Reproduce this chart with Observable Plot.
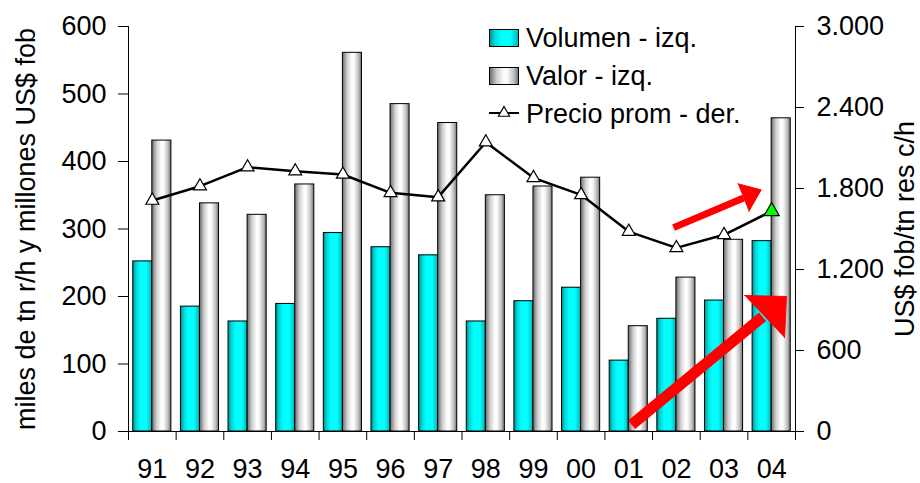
<!DOCTYPE html>
<html><head><meta charset="utf-8">
<script src="https://cdn.jsdelivr.net/npm/d3@7"></script>
<script src="https://cdn.jsdelivr.net/npm/@observablehq/plot@0.6"></script>
<style>body{margin:0;background:#fff}#chart{position:relative;width:920px;height:483px}</style>
</head><body><div id="chart"></div>
<script>
// ---- data ----
const years   = ["91","92","93","94","95","96","97","98","99","00","01","02","03","04"];
const volumen = [252,185,163,189,294,273,261,163,193,213,105,167,194,282];
const valor   = [431,338,321,366,561,485,457,350,363,376,156,228,284,464];
const precio  = [1711,1817,1958,1928,1904,1768,1736,2143,1879,1753,1481,1360,1457,1632];
const highlightYear = "04";
const leftTicks  = [0,100,200,300,400,500,600];
const rightTicks = [0,600,1200,1800,2400,3000];
const leftTitle  = "miles de tn r/h y millones US$ fob";
const rightTitle = "US$ fob/tn res c/h";
const legendLabels = ["Volumen - izq.","Valor - izq.","Precio prom - der."];
// annotation arrows (x in year-index units, y in left-axis units)
const bigShaft   = [{x1:10.56, y1:10,  x2:13.31, y2:170}];
const smallShaft = [{x1:11.44, y1:302, x2:12.91, y2:346}];
const arrowHeads = [
  {id:"big", x:12.93, y:201.5},{id:"big", x:13.81, y:200},{id:"big", x:13.77, y:139},
  {id:"small", x:12.79, y:367},{id:"small", x:13.28, y:358},{id:"small", x:13.02, y:326}
];

const ratio = 3000/600;
const rows = years.map((y,i)=>({i, year:y, vol:volumen[i], val:valor[i], pre:precio[i]}));
const fmtDot = v => d3.format(",")(v).replace(/,/g,".");
const FONT = "'Liberation Sans', Arial, Helvetica, sans-serif";

const plot = Plot.plot({
  width: 920, height: 483,
  marginLeft: 128, marginRight: 125, marginTop: 26, marginBottom: 52,
  style: {fontFamily: FONT, fontSize: "27px", color: "#000", background: "#fff"},
  x: {type: "linear", domain: [0, years.length]},
  y: {domain: [0, 600]},
  marks: [
    Plot.rectY(rows, {x1: d=>d.i+0.1, x2: d=>d.i+0.5, y1: 0, y2: "vol", fill: "url(#gCyan)", stroke: "#000", strokeWidth: 1}),
    Plot.rectY(rows, {x1: d=>d.i+0.5, x2: d=>d.i+0.9, y1: 0, y2: "val", fill: "url(#gGrey)", stroke: "#000", strokeWidth: 1}),
    Plot.ruleX([0], {stroke: "#000"}),
    Plot.ruleX([years.length], {stroke: "#000"}),
    Plot.ruleY([0], {stroke: "#000"}),
    Plot.axisY(leftTicks, {tickSize: 10, tickPadding: 12, fontSize: 27, label: null}),
    Plot.axisY(rightTicks.map(v=>v/ratio), {anchor: "right", tickSize: 8, tickPadding: 13, fontSize: 27, label: null, tickFormat: v => fmtDot(Math.round(v*ratio))}),
    Plot.axisX(rows.map(d=>d.i+0.5), {tickSize: 0, tickPadding: 27, fontSize: 27, label: null, tickFormat: v => years[Math.round(v-0.5)]}),
    Plot.axisX(d3.range(years.length+1), {tickSize: 9, tickPadding: 0, label: null, tickFormat: () => ""}),
    Plot.line(rows, {x: d=>d.i+0.5, y: d=>d.pre/ratio, stroke: "#000", strokeWidth: 2.5}),
    Plot.dot(rows, {filter: d=>d.year!==highlightYear, x: d=>d.i+0.5, y: d=>d.pre/ratio, symbol: "triangle", r: 4.8, fill: "#fff", stroke: "#000", strokeWidth: 1.2}),
    Plot.dot(rows, {filter: d=>d.year===highlightYear, x: d=>d.i+0.5, y: d=>d.pre/ratio, symbol: "triangle", r: 5.6, fill: "#00ff00", stroke: "#000", strokeWidth: 1.2}),
    Plot.link(bigShaft, {x1:"x1", y1:"y1", x2:"x2", y2:"y2", stroke: "#ff0000", strokeWidth: 11}),
    Plot.link(smallShaft, {x1:"x1", y1:"y1", x2:"x2", y2:"y2", stroke: "#ff0000", strokeWidth: 7}),
    Plot.line(arrowHeads, {x:"x", y:"y", z:"id", fill: "#ff0000", stroke: "#ff0000", strokeWidth: 1}),
    Plot.text([leftTitle], {text: d=>d, frameAnchor: "left", textAnchor: "middle", lineAnchor: "middle", rotate: -90, dx: -102, fontSize: 27}),
    Plot.text([rightTitle], {text: d=>d, frameAnchor: "right", textAnchor: "middle", lineAnchor: "middle", rotate: -90, dx: 110, fontSize: 27})
  ]
});
document.getElementById("chart").appendChild(plot);

// gradients
const svg = d3.select(plot);
const defs = svg.insert("defs", ":first-child");
const gc = defs.append("linearGradient").attr("id","gCyan").attr("x1","0").attr("x2","1").attr("y1","0").attr("y2","0");
[["0%","#008c8c"],["18%","#00d8d8"],["40%","#00ffff"],["72%","#00ffff"],["100%","#00b4b4"]]
  .forEach(([o,c])=>gc.append("stop").attr("offset",o).attr("stop-color",c));
const gg = defs.append("linearGradient").attr("id","gGrey").attr("x1","0").attr("x2","1").attr("y1","0").attr("y2","0");
[["0%","#6a6a6a"],["25%","#cfcfcf"],["50%","#ffffff"],["62%","#fafafa"],["85%","#bdbdbd"],["100%","#6e6e6e"]]
  .forEach(([o,c])=>gg.append("stop").attr("offset",o).attr("stop-color",c));

// legend
const lg = svg.append("g").attr("font-family", FONT).attr("font-size", 27).attr("text-anchor", "start");
lg.append("rect").attr("x",489.5).attr("y",29.5).attr("width",29).attr("height",17).attr("fill","url(#gCyan)").attr("stroke","#000");
lg.append("rect").attr("x",489.5).attr("y",67.5).attr("width",29).attr("height",17).attr("fill","url(#gGrey)").attr("stroke","#000");
lg.append("line").attr("x1",489).attr("x2",519).attr("y1",113).attr("y2",113).attr("stroke","#000").attr("stroke-width",2);
lg.append("path").attr("d", d3.symbol(d3.symbolTriangle, 55)()).attr("transform","translate(504,113)").attr("fill","#fff").attr("stroke","#000").attr("stroke-width",1.2);
[[37,legendLabels[0]],[75,legendLabels[1]],[113,legendLabels[2]]].forEach(([y,t])=>
  lg.append("text").attr("x",526).attr("y",y).attr("dy","0.36em").attr("text-anchor","start").attr("fill","#000").text(t));
</script>
</body></html>
